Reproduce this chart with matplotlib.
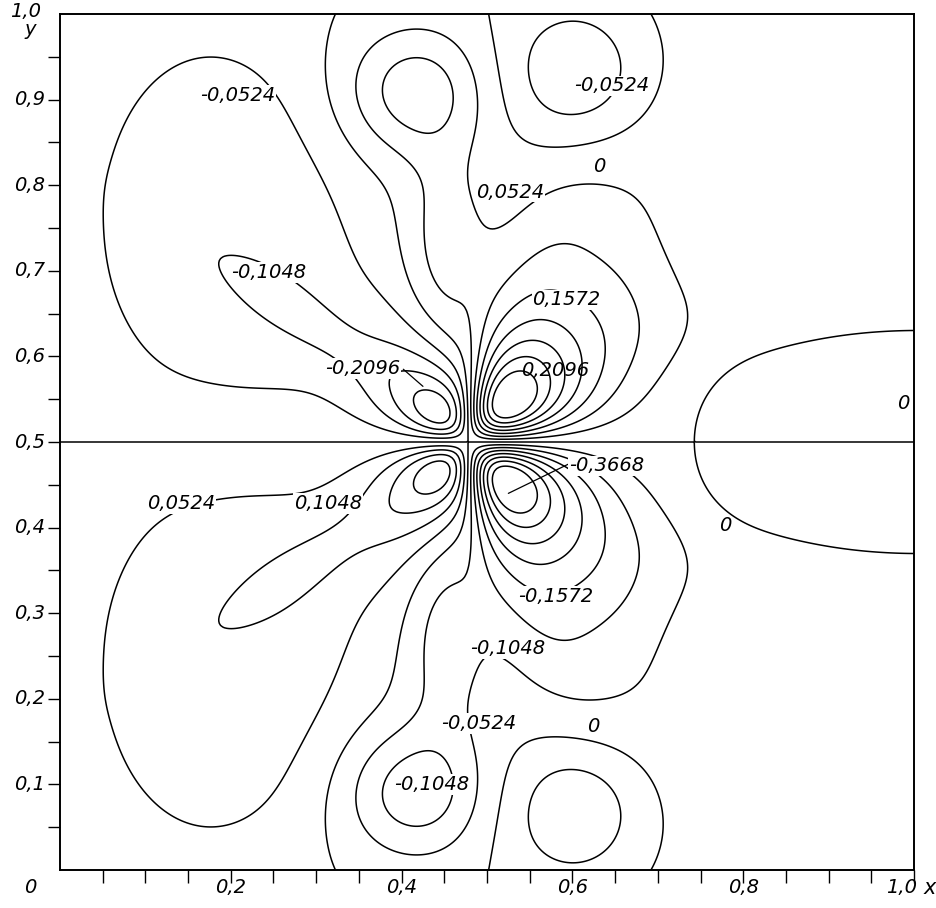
import numpy as np
import matplotlib.pyplot as plt

# contour levels (step 0.0524)
levels = [-0.3668, -0.3144, -0.2620, -0.2096, -0.1572, -0.1048, -0.0524, 0.0,
          0.0524, 0.1048, 0.1572, 0.2096, 0.2620, 0.3144, 0.3668]

# central quadrupole-like core: centre, core radii and peak values of the left and right lobes
core_x, core_y = 0.478, 0.5
core_a_left, core_a_right = 0.055, 0.07
core_peak_left = -0.25
core_peak_right = 0.44

# extra extrema of the upper half (y > 0.5); the lower half mirrors them with opposite sign
bump_x = [0.280, 0.175, 0.415, 0.450, 0.560, 0.605, 0.750, 0.880]
bump_y = [0.650, 0.760, 0.910, 0.720, 0.700, 0.930, 0.730, 0.560]
bump_amp = [-0.05, -0.06, 0.14, 0.09, 0.02, -0.115, -0.035, -0.05]
bump_sx = [0.130, 0.160, 0.080, 0.050, 0.050, 0.085, 0.070, 0.220]
bump_sy = [0.030, 0.250, 0.075, 0.130, 0.140, 0.085, 0.100, 0.070]
bump_ang = [-34, 0, 0, 0, -25, 0, 0, 0]
bump_pow = [1, 2, 1, 1, 1, 1, 1, 1]

# isoline labels: (level, x, y)
label_level = [-0.0524, -0.0524, 0.0, 0.0524, -0.1048, 0.1572, -0.2096, 0.2096,
               0.0, -0.3668, 0.0524, 0.1048, 0.0, -0.1572, -0.1048, -0.0524,
               0.0, -0.1048]
label_x = [0.208, 0.646, 0.631, 0.527, 0.244, 0.593, 0.354, 0.580,
           0.987, 0.640, 0.142, 0.314, 0.779, 0.580, 0.524, 0.490,
           0.624, 0.435]
label_y = [0.905, 0.916, 0.822, 0.792, 0.698, 0.666, 0.586, 0.583,
           0.545, 0.472, 0.428, 0.428, 0.402, 0.320, 0.259, 0.171,
           0.168, 0.100]
label_box = [True, True, True, True, True, True, True, False,
             False, True, True, True, True, True, True, True,
             True, True]

x_ticks = [0.2, 0.4, 0.6, 0.8, 1.0]
x_ticklabels = ["0,2", "0,4", "0,6", "0,8", "1,0"]
y_ticks = [0.1, 0.2, 0.3, 0.4, 0.5, 0.6, 0.7, 0.8, 0.9]
y_ticklabels = ["0,1", "0,2", "0,3", "0,4", "0,5", "0,6", "0,7", "0,8", "0,9"]


def bump(X, Y, cx, cy, sx, sy, ang, p):
    t = np.deg2rad(ang)
    u = (X - cx) * np.cos(t) + (Y - cy) * np.sin(t)
    v = -(X - cx) * np.sin(t) + (Y - cy) * np.cos(t)
    q = (u / sx) ** 2 + (v / sy) ** 2
    return np.exp(-q ** p)


n = 400
X, Y = np.meshgrid(np.linspace(0, 1, n), np.linspace(0, 1, n))

# core: k * dx * dy / (r^2 + a^2)^2 peaks at k / (8 a^2)
dx = X - core_x
dy = Y - core_y
w = 0.5 * (1 + np.tanh(dx / 0.02))
a = core_a_left * (1 - w) + core_a_right * w
k = 8 * a ** 2 * (-core_peak_left * (1 - w) + core_peak_right * w)
Z = k * dx * dy / (dx ** 2 + dy ** 2 + a ** 2) ** 2

for i in range(len(bump_x)):
    Z += bump_amp[i] * (bump(X, Y, bump_x[i], bump_y[i], bump_sx[i], bump_sy[i], bump_ang[i], bump_pow[i])
                        - bump(X, Y, bump_x[i], 1 - bump_y[i], bump_sx[i], bump_sy[i], -bump_ang[i], bump_pow[i]))


def fmt(v):
    if v == 0:
        return "0"
    return ("%.4f" % v).replace(".", ",")


plt.rcParams['font.family'] = 'DejaVu Sans'
fig = plt.figure(figsize=(9.37, 9.08), dpi=100)
ax = fig.add_axes([60 / 937, 38 / 908, 854 / 937, 856 / 908])

ax.contour(X, Y, Z, levels=levels, colors='black', linewidths=1.1, linestyles='solid')

for lv, lx, ly, boxed in zip(label_level, label_x, label_y, label_box):
    kw = dict(fontsize=14, style='italic', ha='center', va='center', zorder=5)
    if boxed:
        kw['bbox'] = dict(facecolor='white', edgecolor='none', pad=0.5)
    ax.text(lx, ly, fmt(lv), **kw)

# leader lines from two labels to their lobes
ax.annotate("", xy=(0.425, 0.565), xytext=(0.402, 0.585),
            arrowprops=dict(arrowstyle='-', lw=0.9, color='black', shrinkA=0, shrinkB=0))
ax.annotate("", xy=(0.525, 0.44), xytext=(0.595, 0.474),
            arrowprops=dict(arrowstyle='-', lw=0.9, color='black', shrinkA=0, shrinkB=0))

ax.set_xlim(0, 1)
ax.set_ylim(0, 1)
ax.set_xticks(np.arange(0.05, 1.0001, 0.05))
ax.set_yticks(np.arange(0.05, 0.96, 0.05))
ax.set_xticklabels([])
ax.set_yticklabels([])
ax.tick_params(direction='out', length=9, width=1.0)
for s in ax.spines.values():
    s.set_linewidth(1.4)

tf = ax.transAxes
for t, s in zip(x_ticks, x_ticklabels):
    ax.text(min(t, 0.986), -0.021, s, transform=tf, fontsize=14, style='italic', ha='center', va='center')
for t, s in zip(y_ticks, y_ticklabels):
    ax.text(-0.017, t, s, transform=tf, fontsize=14, style='italic', ha='right', va='center')
ax.text(-0.035, -0.021, "0", transform=tf, fontsize=14, style='italic', ha='center', va='center')
ax.text(-0.04, 1.003, "1,0", transform=tf, fontsize=14, style='italic', ha='center', va='center')
ax.text(-0.035, 0.982, "y", transform=tf, fontsize=14, style='italic', ha='center', va='center')
ax.text(1.019, -0.021, "x", transform=tf, fontsize=15, style='italic', ha='center', va='center')

fig.savefig("out.png", dpi=100)
